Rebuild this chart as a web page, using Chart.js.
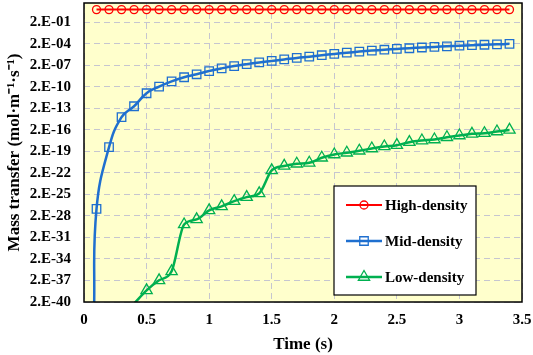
<!DOCTYPE html>
<html>
<head>
<meta charset="utf-8">
<script src="https://cdn.jsdelivr.net/npm/chart.js@4.4.1/dist/chart.umd.min.js"></script>
<style>
    html, body {margin: 0; padding: 0; background: #fff;}
    #wrap {width: 533px; height: 355px;}
</style>
</head>
<body>
<div id="wrap"><canvas id="myChart" width="533" height="355"></canvas></div>
<script>
// time axis (s)
const timeS = [0.1, 0.2, 0.3, 0.4, 0.5, 0.6, 0.7, 0.8, 0.9, 1.0, 1.1, 1.2, 1.3, 1.4, 1.5, 1.6, 1.7,
    1.8, 1.9, 2.0, 2.1, 2.2, 2.3, 2.4, 2.5, 2.6, 2.7, 2.8, 2.9, 3.0, 3.1, 3.2, 3.3, 3.4];

const highDensity = [12, 12, 12, 12, 12, 12, 12, 12, 12, 12, 12, 12, 12, 12, 12, 12, 12,
    12, 12, 12, 12, 12, 12, 12, 12, 12, 12, 12, 12, 12, 12, 12, 12, 12];

// mid-density curve starts just before the first sample, below the axis
const midTimeS = [0.08].concat(timeS);
const midDensity = [1e-41, 2.0e-27, 7.8e-19, 1.2e-14, 4.0e-13, 2.6e-11, 2.2e-10, 1.2e-9, 4.4e-9, 1.15e-8,
    3.2e-8, 7.6e-8, 1.6e-7, 3.0e-7, 5.2e-7, 8.4e-7, 1.36e-6, 2.2e-6, 3.3e-6, 5.2e-6,
    7.9e-6, 1.17e-5, 1.66e-5, 2.3e-5, 3.05e-5, 3.9e-5, 4.9e-5, 6.2e-5, 7.5e-5, 9.1e-5,
    1.1e-4, 1.3e-4, 1.5e-4, 1.7e-4, 2.0e-4];

const lowDensity = [null, null, null, 1.2e-40, 8.5e-39, 2.1e-37, 3.8e-36, 1.3e-29, 6.6e-29, 1.2e-27,
    4.3e-27, 2.3e-26, 8.5e-26, 2.8e-25, 4.5e-22, 1.9e-21, 3.8e-21, 5.2e-21, 2.6e-20, 7.5e-20,
    1.3e-19, 2.5e-19, 5.1e-19, 9.8e-19, 1.5e-18, 3.9e-18, 6.6e-18, 9.2e-18, 1.9e-17, 3.3e-17,
    5.7e-17, 6.9e-17, 1.2e-16, 2.0e-16];

const yMin = 2e-40, yMax = 100;
const yTickValues = [2e-40, 2e-37, 2e-34, 2e-31, 2e-28, 2e-25, 2e-22, 2e-19, 2e-16, 2e-13, 2e-10, 2e-7, 2e-4, 2e-1];
const yTickLabels = ['2.E-40', '2.E-37', '2.E-34', '2.E-31', '2.E-28', '2.E-25', '2.E-22', '2.E-19',
    '2.E-16', '2.E-13', '2.E-10', '2.E-07', '2.E-04', '2.E-01'];

const serif = '"Liberation Serif", "Times New Roman", serif';
const clear = 'rgba(0,0,0,0)';

function pairs(xs, ys) {
    return xs.map(function (x, i) { return {x: x, y: ys[i]}; }).filter(function (p) { return p.y !== null; });
}

// points below the axis only steer the line, no marker
function hideBelow(r) {
    return function (c) { return c.raw && c.raw.y < yMin ? 0 : r; };
}

function noPad(s) {
    s.paddingTop = 0;
    s.paddingBottom = 0;
    s.paddingLeft = 0;
    s.paddingRight = 0;
}

// yellow plot background + black frame
const frame = {
    id: 'frame',
    beforeDraw: function (chart) {
        const a = chart.chartArea, c = chart.ctx;
        c.save();
        c.fillStyle = '#ffffcc';
        c.fillRect(a.left, a.top, a.width, a.height);
        c.restore();
    },
    afterDatasetsDraw: function (chart) {
        const a = chart.chartArea, c = chart.ctx;
        c.save();
        c.strokeStyle = '#000';
        c.lineWidth = 1.5;
        c.strokeRect(a.left, a.top, a.width, a.height);
        c.restore();
    }
};

// legend box inside the plot, lower right
const boxLegend = {
    id: 'boxLegend',
    afterDraw: function (chart) {
        const c = chart.ctx, bx = 334, by = 186, bw = 142, bh = 109;
        c.save();
        c.fillStyle = '#fff';
        c.fillRect(bx, by, bw, bh);
        c.strokeStyle = '#000';
        c.lineWidth = 1.2;
        c.strokeRect(bx, by, bw, bh);
        chart.data.datasets.forEach(function (ds, i) {
            const y = by + 19 + i * 36;
            c.strokeStyle = ds.borderColor;
            c.lineWidth = ds.borderWidth;
            c.beginPath();
            c.moveTo(bx + 12, y);
            c.lineTo(bx + 48, y);
            c.stroke();
            c.fillStyle = clear;
            c.lineWidth = 1.3;
            Chart.helpers.drawPoint(c, {
                pointStyle: ds.pointStyle,
                radius: ds.legendRadius,
                borderWidth: 1.3
            }, bx + 30, y);
            c.fillStyle = '#000';
            c.font = 'bold 15px ' + serif;
            c.textBaseline = 'middle';
            c.textAlign = 'left';
            c.fillText(ds.label, bx + 51, y + 1);
        });
        c.restore();
    }
};

const ctx = document.getElementById('myChart');
let myChart = new Chart(ctx, {
    type: 'line',
    plugins: [frame, boxLegend],
    data: {
        datasets: [
            {
                label: 'High-density',
                data: pairs(timeS, highDensity),
                borderColor: '#ff0000',
                backgroundColor: clear,
                pointBackgroundColor: clear,
                borderWidth: 2,
                pointStyle: 'circle',
                pointRadius: 4,
                legendRadius: 4,
                pointBorderWidth: 1.3,
                tension: 0
            },
            {
                label: 'Mid-density',
                data: pairs(midTimeS, midDensity),
                borderColor: '#1f6fcf',
                backgroundColor: clear,
                pointBackgroundColor: clear,
                borderWidth: 2.5,
                pointStyle: 'rect',
                pointRadius: hideBelow(6),
                legendRadius: 6,
                pointBorderWidth: 1.3,
                tension: 0.45
            },
            {
                label: 'Low-density',
                data: pairs(timeS, lowDensity),
                borderColor: '#00b050',
                backgroundColor: clear,
                pointBackgroundColor: clear,
                borderWidth: 2.5,
                pointStyle: 'triangle',
                pointRadius: hideBelow(6.5),
                legendRadius: 6.5,
                pointBorderWidth: 1.3,
                cubicInterpolationMode: 'monotone'
            }
        ]
    },
    options: {
        responsive: false,
        animation: false,
        devicePixelRatio: 1,
        layout: {autoPadding: false, padding: {top: 3, right: 11, left: 0, bottom: 0}},
        plugins: {legend: {display: false}, tooltip: {enabled: false}},
        scales: {
            x: {
                type: 'linear',
                min: 0,
                max: 3.5,
                ticks: {
                    stepSize: 0.5, color: '#000', padding: 9, font: {family: serif, size: 15, weight: 'bold'},
                    callback: function (v) { return String(+v.toFixed(1)); }
                },
                grid: {color: '#c6c6d0', lineWidth: 1, drawTicks: false},
                border: {display: false, dash: [6, 4]},
                title: {display: true, text: 'Time (s)', color: '#000', padding: {top: 4, bottom: 0}, font: {family: serif, size: 17, weight: 'bold'}},
                afterFit: function (s) {
                    s.height = 53;
                    noPad(s);
                }
            },
            y: {
                type: 'logarithmic',
                min: yMin,
                max: yMax,
                afterBuildTicks: function (s) {
                    s.ticks = yTickValues.map(function (v) { return {value: v}; });
                },
                ticks: {
                    autoSkip: false,
                    color: '#000',
                    padding: 13,
                    font: {family: serif, size: 15, weight: 'bold'},
                    callback: function (v, i) { return yTickLabels[i]; }
                },
                grid: {color: '#c6c6d0', lineWidth: 1, drawTicks: false},
                border: {display: false, dash: [6, 4]},
                title: {display: true, text: 'Mass transfer (mol·m⁻¹·s⁻¹)', color: '#000', font: {family: serif, size: 17, weight: 'bold'}},
                afterFit: function (s) {
                    s.width = 84;
                    noPad(s);
                }
            }
        }
    }
});
</script>
</body>
</html>
